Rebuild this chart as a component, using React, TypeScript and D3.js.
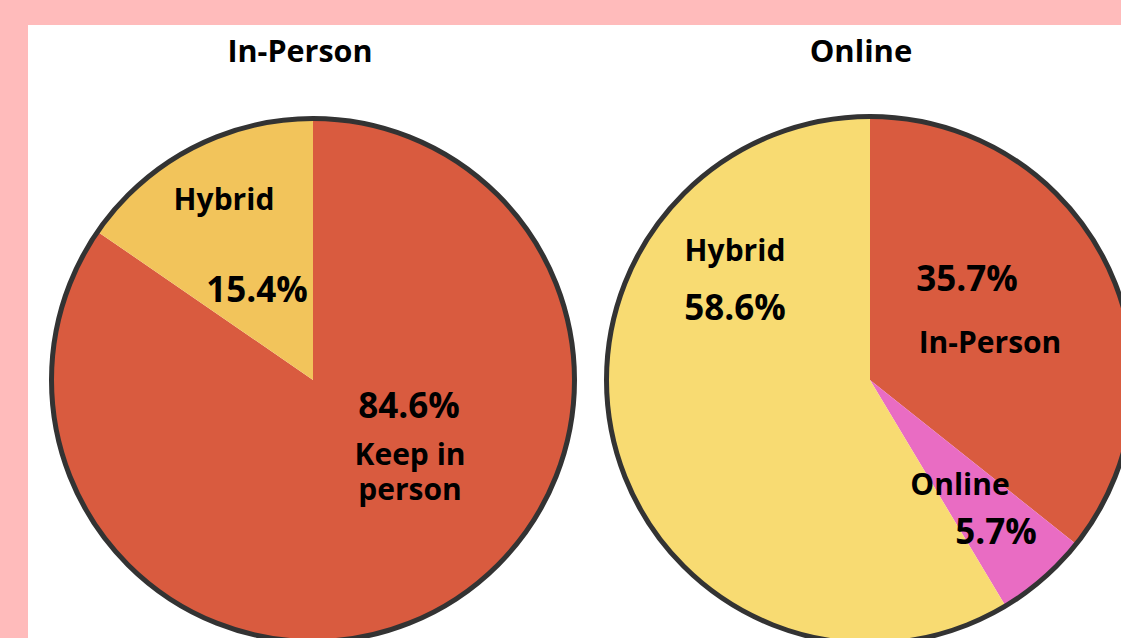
import React from "react";
import * as d3 from "d3";

const leftCategories = ["Keep in person", "Hybrid"];
const leftValues = [84.6, 15.4];
const leftColors = ["#D95B3F", "#F2C45B"];

const rightCategories = ["In-Person", "Online", "Hybrid"];
const rightValues = [35.7, 5.7, 58.6];
const rightColors = ["#D95B3F", "#E96CC3", "#F8DB72"];

const titles = ["In-Person", "Online"];

const W = 1121;
const H = 638;

type Lbl = { text: string; x: number; y: number; pct?: boolean };

const leftLabels: Lbl[] = [
  { text: "84.6%", x: 409, y: 418, pct: true },
  { text: "Keep in", x: 410, y: 465 },
  { text: "person", x: 410, y: 500 },
  { text: "Hybrid", x: 224, y: 210 },
  { text: "15.4%", x: 257, y: 302, pct: true },
];

const rightLabels: Lbl[] = [
  { text: "35.7%", x: 967, y: 291, pct: true },
  { text: "In-Person", x: 990, y: 353 },
  { text: "Online", x: 960, y: 495 },
  { text: "5.7%", x: 996, y: 544, pct: true },
  { text: "Hybrid", x: 735, y: 261 },
  { text: "58.6%", x: 735, y: 320, pct: true },
];

const FONT = "'Open Sans', 'Noto Sans', sans-serif";

function Pie({ cx, cy, r, values, colors }: { cx: number; cy: number; r: number; values: number[]; colors: string[] }) {
  const pie = d3.pie<number>().sort(null).value((d) => d);
  const arc = d3.arc<d3.PieArcDatum<number>>().innerRadius(0).outerRadius(r);
  const arcs = pie(values);
  return (
    <g transform={`translate(${cx},${cy})`}>
      {arcs.map((a, i) => (
        <path key={i} d={arc(a) || ""} fill={colors[i]} />
      ))}
      <circle r={r - 0.5} fill="none" stroke="#333333" strokeWidth={5} />
    </g>
  );
}

function Label({ l }: { l: Lbl }) {
  return (
    <text
      x={l.x}
      y={l.y}
      textAnchor="middle"
      fontFamily={FONT}
      fontWeight={700}
      fontSize={l.pct ? 35 : 30}
      fill="#000"
    >
      {l.text}
    </text>
  );
}

export default function App() {
  return (
    <svg
      width={W}
      height={H}
      style={{ position: "absolute", left: 0, top: 0, display: "block" }}
    >
      <rect x={0} y={0} width={W} height={H} fill="#FFBBBB" />
      <rect x={28} y={25} width={W - 28} height={H - 25} fill="#FFFFFF" />
      <Pie cx={313} cy={380} r={262} values={leftValues} colors={leftColors} />
      <Pie cx={870} cy={380} r={264} values={rightValues} colors={rightColors} />
      <text x={300} y={62} textAnchor="middle" fontFamily={FONT} fontWeight={700} fontSize={30.5}>
        {titles[0]}
      </text>
      <text x={861} y={62} textAnchor="middle" fontFamily={FONT} fontWeight={700} fontSize={31}>
        {titles[1]}
      </text>
      {leftLabels.map((l, i) => (
        <Label key={"l" + i} l={l} />
      ))}
      {rightLabels.map((l, i) => (
        <Label key={"r" + i} l={l} />
      ))}
    </svg>
  );
}
